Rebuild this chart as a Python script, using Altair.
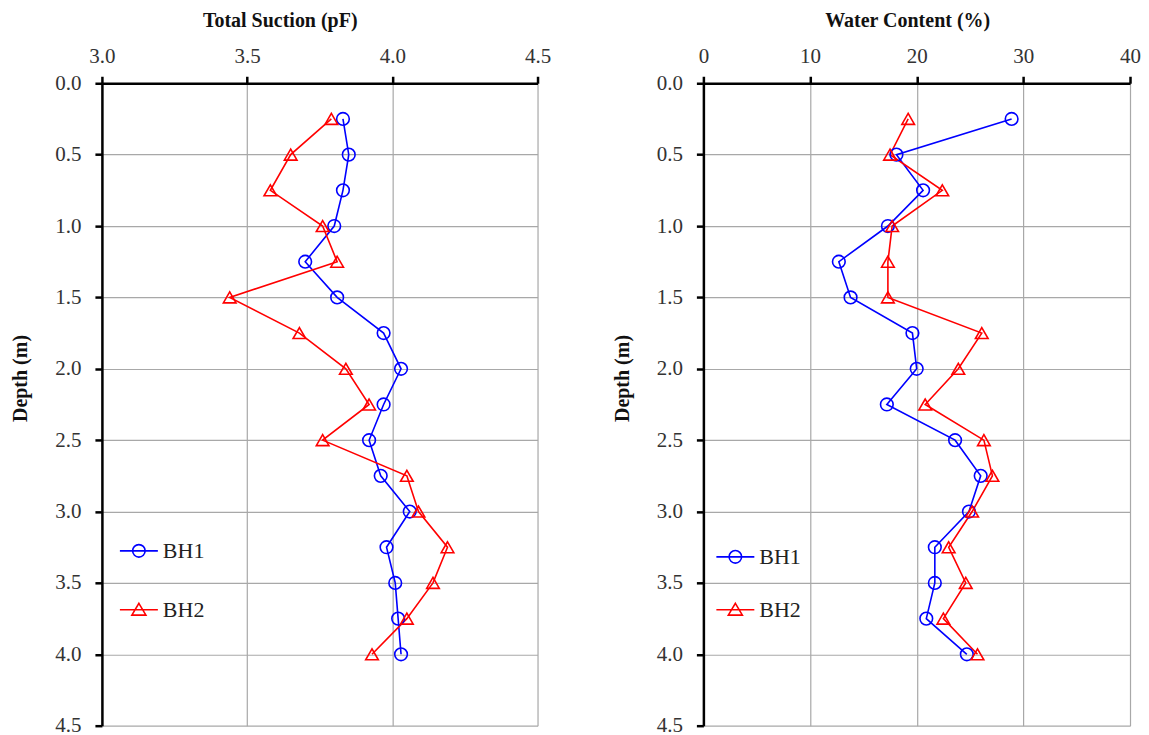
import altair as alt
import pandas as pd

# ---- data ----
depth = [0.25, 0.50, 0.75, 1.00, 1.25, 1.50, 1.75, 2.00,
         2.25, 2.50, 2.75, 3.00, 3.25, 3.50, 3.75, 4.00]
series_names = ["BH1", "BH2"]
suction_bh1 = [3.83, 3.85, 3.83, 3.80, 3.70, 3.81, 3.97, 4.03,
               3.97, 3.92, 3.96, 4.06, 3.98, 4.01, 4.02, 4.03]
suction_bh2 = [3.79, 3.65, 3.58, 3.76, 3.81, 3.44, 3.68, 3.84,
               3.92, 3.76, 4.05, 4.09, 4.19, 4.14, 4.05, 3.93]
water_bh1 = [28.9, 18.1, 20.6, 17.3, 12.7, 13.8, 19.6, 20.0,
             17.2, 23.6, 26.0, 24.9, 21.7, 21.7, 20.9, 24.7]
water_bh2 = [19.2, 17.5, 22.4, 17.7, 17.3, 17.3, 26.1, 23.9,
             20.8, 26.3, 27.1, 25.2, 23.0, 24.6, 22.5, 25.7]
depth_ticks = [0.0, 0.5, 1.0, 1.5, 2.0, 2.5, 3.0, 3.5, 4.0, 4.5]
suction_ticks = [3.0, 3.5, 4.0, 4.5]
water_ticks = [0, 10, 20, 30, 40]

colors = ["#0000FF", "#FF0000"]
FONT = "Liberation Serif"
LEG_CIRCLE = "M-1,0H1M0.33,0A0.33,0.33 0 1 1 -0.33,0A0.33,0.33 0 1 1 0.33,0Z"
LEG_TRI = "M-1,0H1M0,-0.34L0.37,0.28L-0.37,0.28Z"


def make_df(v1, v2):
    rows = []
    for name, vals in zip(series_names, [v1, v2]):
        for d, v in zip(depth, vals):
            rows.append({"series": name, "depth": d, "value": v})
    return pd.DataFrame(rows)


def panel(v1, v2, title, domain, ticks, fmt, width, title_x,
          leg_x, leg_y, leg_row):
    df = make_df(v1, v2)
    xaxis = alt.Axis(orient="top", values=ticks, format=fmt, title=title,
                     titleFont=FONT, titleFontSize=20, titleFontWeight="bold",
                     titleColor="#111", titleX=title_x, titleY=-63,
                     titleBaseline="middle", titleAlign="center",
                     labelFont=FONT, labelFontSize=21, labelColor="#333",
                     labelPadding=10, labelFlush=False,
                     domainColor="black", domainWidth=2.5,
                     tickColor="black", tickWidth=2.5, tickSize=7,
                     grid=True, gridColor="#a8a8a8", gridWidth=1.2)
    yaxis = alt.Axis(orient="left", values=depth_ticks, format=".1f",
                     title="Depth (m)", titleFont=FONT, titleFontSize=20,
                     titleFontWeight="bold", titleColor="#111",
                     titleX=-81, titleY=295, titleBaseline="middle",
                     titleAlign="center", titleAngle=270,
                     labelFont=FONT, labelFontSize=21, labelColor="#333",
                     labelPadding=14, labelFlush=False,
                     domainColor="black", domainWidth=2.5,
                     tickColor="black", tickWidth=2.5, tickSize=7,
                     grid=True, gridColor="#a8a8a8", gridWidth=1.2)
    x = alt.X("value:Q", scale=alt.Scale(domain=domain, nice=False, zero=False),
              axis=xaxis)
    y = alt.Y("depth:Q", scale=alt.Scale(domain=[0, 4.5], reverse=True,
                                         nice=False, zero=False), axis=yaxis)
    cscale = alt.Scale(domain=series_names, range=colors)
    base = alt.Chart(df)
    lines = base.mark_line(strokeWidth=1.6).encode(
        x=x, y=y, order=alt.Order("depth:Q"),
        color=alt.Color("series:N", scale=cscale, legend=None),
        detail="series:N")
    pts = base.mark_point(filled=False, size=160, strokeWidth=1.6, opacity=1).encode(
        x=x, y=y,
        color=alt.Color("series:N", scale=cscale, legend=None),
        shape=alt.Shape("series:N", scale=alt.Scale(domain=series_names,
                                                    range=["circle", "triangle-up"]),
                        legend=None))
    legend = alt.Legend(orient="none", legendX=leg_x, legendY=leg_y, title=None,
                        symbolSize=1444, symbolOpacity=1, symbolStrokeWidth=1.6,
                        labelFont=FONT, labelFontSize=22, labelColor="#222",
                        labelOffset=4, rowPadding=leg_row, padding=0,
                        direction="vertical")
    leg = base.mark_point(filled=False, opacity=0).encode(
        x=x, y=y,
        color=alt.Color("series:N", scale=cscale, legend=legend),
        shape=alt.Shape("series:N", scale=alt.Scale(domain=series_names,
                                                    range=[LEG_CIRCLE, LEG_TRI]),
                        legend=legend))
    return alt.layer(lines, pts, leg).resolve_scale(
        color="independent", shape="independent").properties(
        width=width, height=643)


left = panel(suction_bh1, suction_bh2, "Total Suction (pF)", [3.0, 4.5],
             suction_ticks, ".1f", 436, 178, 17, 448, 28)
right = panel(water_bh1, water_bh2, "Water Content (%)", [0, 40],
              water_ticks, "d", 427, 204, 12, 454, 22)

chart = alt.hconcat(left, right, spacing=61).configure(
    font=FONT, padding={"left": 3, "top": 2, "right": 0, "bottom": 0}
).configure_view(stroke=None)

chart.save("out.html", embed_options={"renderer": "svg", "actions": False})
